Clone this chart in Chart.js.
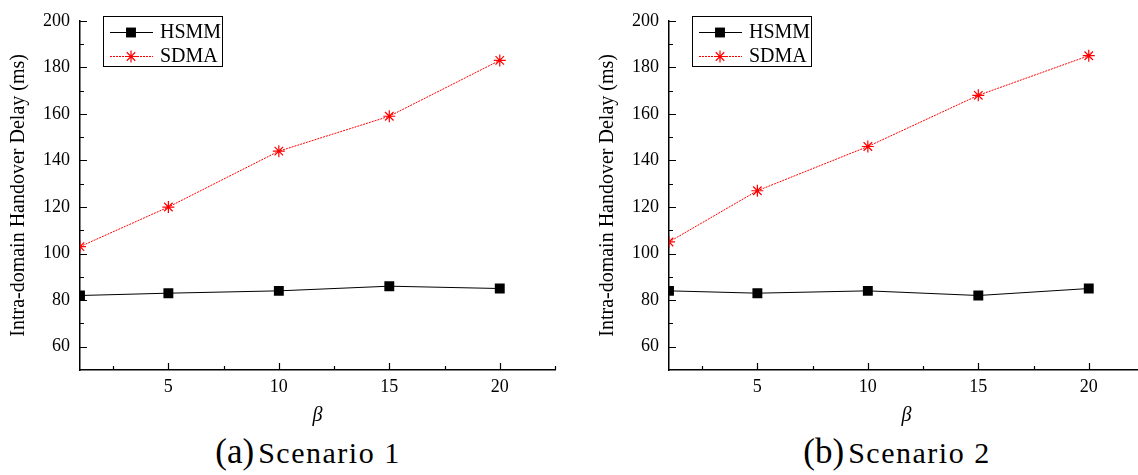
<!DOCTYPE html>
<html>
<head>
<meta charset="utf-8">
<script src="https://cdn.jsdelivr.net/npm/chart.js@4.4.1/dist/chart.umd.min.js"></script>
<style>
    html, body { margin: 0; padding: 0; background: #fff; overflow: hidden; }
    #page { position: relative; width: 1138px; height: 475px; overflow: hidden; }
    .panel { position: absolute; top: 0; width: 580px; height: 475px; }
    .panel canvas { position: absolute; left: 0; top: 0; }
    .caption {
        position: absolute; left: 18px; top: 432px; width: 580px; height: 40px;
        text-align: center; line-height: 40px; white-space: nowrap;
        font-family: "Liberation Serif", "Times New Roman", serif; color: #000;
    }
    .caption .tag { font-size: 35px; }
    .caption .name { font-size: 30px; letter-spacing: 1.5px; }
</style>
</head>
<body>
<div id="page">
    <div class="panel" style="left:0px">
        <canvas id="chartA" width="580" height="432"></canvas>
        <div class="caption"><span class="tag">(a)</span> <span class="name">Scenario 1</span></div>
    </div>
    <div class="panel" style="left:589px">
        <canvas id="chartB" width="580" height="432"></canvas>
        <div class="caption"><span class="tag">(b)</span> <span class="name">Scenario 2</span></div>
    </div>
</div>
<script>
// data
const betaValues = [1, 5, 10, 15, 20];
const hsmmScenario1 = [82, 83, 84, 86, 85];
const sdmaScenario1 = [103, 120, 144, 159, 183];
const hsmmScenario2 = [84, 83, 84, 82, 85];
const sdmaScenario2 = [105, 127, 146, 168, 185];

const xTicks = [5, 10, 15, 20];
const xMinorTicks = [2.5, 7.5, 12.5, 17.5, 22.5];
const yTicks = [60, 80, 100, 120, 140, 160, 180, 200];
const yMinorTicks = [70, 90, 110, 130, 150, 170, 190];

const serif = "'Liberation Serif', 'Times New Roman', serif";

function toPoints(values) {
    return betaValues.map((b, i) => ({ x: b, y: values[i] }));
}

// ticks pointing into the plot, like the original
const innerTicks = {
    id: 'innerTicks',
    afterDraw(chart) {
        const { ctx, chartArea, scales } = chart;
        const x = scales.x, y = scales.y;
        ctx.save();
        ctx.strokeStyle = '#000';
        ctx.lineWidth = 1.2;
        ctx.beginPath();
        xTicks.forEach(v => {
            const px = Math.round(x.getPixelForValue(v)) + 0.5;
            ctx.moveTo(px, chartArea.bottom);
            ctx.lineTo(px, chartArea.bottom - 7);
        });
        xMinorTicks.forEach(v => {
            const px = Math.round(x.getPixelForValue(v)) + 0.5;
            ctx.moveTo(px, chartArea.bottom);
            ctx.lineTo(px, chartArea.bottom - 4);
        });
        yTicks.forEach(v => {
            const py = Math.round(y.getPixelForValue(v)) + 0.5;
            ctx.moveTo(chartArea.left, py);
            ctx.lineTo(chartArea.left + 7, py);
        });
        yMinorTicks.forEach(v => {
            const py = Math.round(y.getPixelForValue(v)) + 0.5;
            ctx.moveTo(chartArea.left, py);
            ctx.lineTo(chartArea.left + 4, py);
        });
        ctx.stroke();
        ctx.restore();
    }
};

// framed legend in the upper left corner of the plot
const boxLegend = {
    id: 'boxLegend',
    afterDraw(chart) {
        const { ctx, chartArea } = chart;
        const left = chartArea.left + 23;
        const top = 16;
        ctx.save();
        ctx.fillStyle = '#fff';
        ctx.fillRect(left, top, 119, 50);
        ctx.strokeStyle = '#000';
        ctx.lineWidth = 1;
        ctx.strokeRect(left + 0.5, top + 0.5, 119, 50);

        chart.data.datasets.forEach((ds, i) => {
            const cy = top + 16 + i * 24;
            ctx.strokeStyle = ds.borderColor;
            ctx.lineWidth = ds.borderWidth;
            ctx.setLineDash(ds.borderDash || []);
            ctx.beginPath();
            ctx.moveTo(left + 7, cy + 0.5);
            ctx.lineTo(left + 50, cy + 0.5);
            ctx.stroke();
            ctx.setLineDash([]);

            ctx.fillStyle = ds.pointBackgroundColor;
            ctx.strokeStyle = ds.pointBorderColor;
            ctx.lineWidth = ds.pointBorderWidth;
            Chart.helpers.drawPoint(ctx, {
                pointStyle: ds.pointStyle,
                radius: ds.pointRadius,
                borderWidth: ds.pointBorderWidth,
                rotation: 0
            }, left + 28, cy + 0.5);

            ctx.fillStyle = '#000';
            ctx.font = '20px ' + serif;
            ctx.textBaseline = 'middle';
            ctx.textAlign = 'left';
            ctx.fillText(ds.label, left + 57, cy + 1);
        });
        ctx.restore();
    }
};

function makeChart(canvasId, hsmm, sdma) {
    const ctx = document.getElementById(canvasId).getContext('2d');
    return new Chart(ctx, {
        type: 'line',
        data: {
            datasets: [{
                label: 'HSMM',
                data: toPoints(hsmm),
                borderColor: '#000',
                borderWidth: 1,
                pointStyle: 'rect',
                pointRadius: 7,
                pointBackgroundColor: '#000',
                pointBorderColor: '#000',
                pointBorderWidth: 0,
                clip: 0
            }, {
                label: 'SDMA',
                data: toPoints(sdma),
                borderColor: '#ff0000',
                borderWidth: 1,
                borderDash: [2, 1],
                pointStyle: 'star',
                pointRadius: 6,
                pointBackgroundColor: '#ff0000',
                pointBorderColor: '#ff0000',
                pointBorderWidth: 1.2,
                clip: 0
            }]
        },
        options: {
            responsive: false,
            animation: false,
            events: [],
            layout: { padding: { top: 15, right: 25, bottom: 0, left: 0 } },
            plugins: {
                legend: { display: false },
                tooltip: { enabled: false }
            },
            scales: {
                x: {
                    type: 'linear',
                    min: 1,
                    max: 22.5,
                    afterBuildTicks: scale => { scale.ticks = xTicks.map(v => ({ value: v })); },
                    afterFit: scale => { scale.height = 62; },
                    grid: { display: false, drawTicks: false },
                    border: { display: true, color: '#000', width: 1.5 },
                    ticks: { color: '#000', padding: 6, font: { family: serif, size: 18 } },
                    title: {
                        display: true,
                        text: 'β',
                        color: '#000',
                        padding: { top: 0, bottom: 4 },
                        font: { family: serif, size: 20, style: 'italic' }
                    }
                },
                y: {
                    type: 'linear',
                    min: 50,
                    max: 200,
                    afterBuildTicks: scale => { scale.ticks = yTicks.map(v => ({ value: v })); },
                    afterFit: scale => { scale.width = 80; },
                    grid: { display: false, drawTicks: false },
                    border: { display: true, color: '#000', width: 1.5 },
                    ticks: { color: '#000', padding: 10, font: { family: serif, size: 18 } },
                    title: {
                        display: true,
                        text: 'Intra-domain Handover Delay (ms)',
                        color: '#000',
                        padding: { top: 7, bottom: 0 },
                        font: { family: serif, size: 20 }
                    }
                }
            }
        },
        plugins: [innerTicks, boxLegend]
    });
}

makeChart('chartA', hsmmScenario1, sdmaScenario1);
makeChart('chartB', hsmmScenario2, sdmaScenario2);
</script>
</body>
</html>
